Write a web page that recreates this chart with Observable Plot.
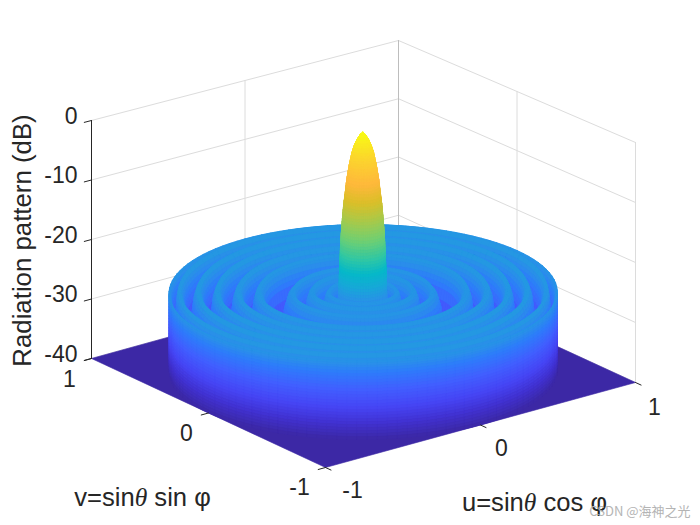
<!DOCTYPE html>
<html><head><meta charset="utf-8">
<script src="https://cdn.jsdelivr.net/npm/d3@7"></script>
<script src="https://cdn.jsdelivr.net/npm/@observablehq/plot@0.6"></script>
<style>html,body{margin:0;padding:0;background:#fff}svg{display:block}</style>
</head><body><div id="chart"></div>
<script>
// radial pattern: sinθ radius and level in dB
const lobeR  = [0,.012,.03,.045,.056,.07,.083,.09,.098,.105,.111,.115,.119,.122,.125];
const lobeDb = [0,-.3,-1.2,-2.3,-3.4,-5.5,-8,-10,-12,-14.5,-17,-19.5,-22.5,-25.5,-28];
const ringR  = [.14,.149,.1575,.166,.175,.186,.1965,.207,.218,.2285,.239,.2495,.26,.274,.2875,.301,.315,.326,.3375,.349,.36,.3825,.405,.4275,.45,.4715,.493,.5145,.536,.548,.56,.573,.585,.599,.6125,.626,.64,.654,.6675,.681,.695,.7085,.722,.7355,.749,.761,.773,.785,.797,.8095,.822,.8345,.847,.8595,.872,.8845,.897,.9095,.922,.9345,.947,.954,.961,.968,.975,.981,.9875,.994,1];
const ringDb = [-38,-31,-28.2,-27.1,-26.6,-27.1,-28.2,-31,-38,-31,-28.2,-27,-26.4,-27,-28.2,-31,-38,-31,-28.2,-27.1,-26.6,-27.5,-29.8,-35,-38,-35,-29.5,-27.2,-26.4,-27,-28.2,-31,-38,-31,-28.2,-27,-26.3,-26.9,-28.1,-31,-38,-31,-28.1,-26.9,-26.2,-26.9,-28.1,-31,-38,-31,-28.1,-26.9,-26.2,-26.9,-28.1,-31,-38,-31,-28.1,-27,-26.3,-27,-28.2,-31,-36,-31,-28.2,-27.2,-26.9];
const wallDb = [-28,-29,-30,-31,-32,-33,-34,-35,-36,-37,-38,-39,-40];
const zTicks = [0,-10,-20,-30,-40];
const uvTicks = [-1,0,1];
const colorDb  = [-40,-37.3,-34.6,-31.7,-28.8,-27.5,-26.5,-25,-22.6,-20,-17,-14,-11,-8,-4,0];
const colorHex = ["#3c28a5","#4132d2","#4646f5","#415fff","#2d7dfa","#2a8eea","#2498e2","#18a8d8","#05b9c8","#35c8a0","#72d070","#a9c94a","#dbbf28","#ffb83c","#fbd52e","#f9fb15"];
const floorCorners = {a:[91,358], b:[325,467], c:[635,382], d:[398,273]};
const topCorners   = {a:[91,120], b:[325,226], c:[635,142], d:[398,40]};

// (u,v,dB) to page position, from the box corners
function project(u,v,db){
  const s=(u+1)/2,t=(v+1)/2,h=(db+40)/40;
  const bi=(k,i)=>k.b[i]*(1-s)*(1-t)+k.c[i]*s*(1-t)+k.a[i]*(1-s)*t+k.d[i]*s*t;
  return [bi(floorCorners,0)*(1-h)+bi(topCorners,0)*h, bi(floorCorners,1)*(1-h)+bi(topCorners,1)*h];
}
const profileR=[...lobeR,...ringR,...wallDb.map(()=>1)];
const profileDb=[...lobeDb,...ringDb,...wallDb];
const quads=[];
for(let i=0;i<profileR.length-1;i++){
  const r0=profileR[i],r1=profileR[i+1],d0=profileDb[i],d1=profileDb[i+1];
  const inLobe=r1<=lobeR[lobeR.length-1], inWall=r0===1;
  const nA=inLobe?60:120, step=(inLobe||inWall)?.5:(Math.min(d0,d1)<-33?2.5:.8);
  const n=Math.max(1,Math.ceil(Math.abs(d1-d0)/step));
  for(let k=0;k<n;k++){
    const ra=r0+(r1-r0)*k/n,rb=r0+(r1-r0)*(k+1)/n,da=d0+(d1-d0)*k/n,db=d0+(d1-d0)*(k+1)/n;
    for(let j=0;j<nA;j++){
      const a0=j/nA*2*Math.PI,a1=(j+1)/nA*2*Math.PI;
      const pts=[[ra,a0,da],[rb,a0,db],[rb,a1,db],[ra,a1,da],[ra,a0,da]].map(([r,a,d])=>[r*Math.cos(a),r*Math.sin(a),d]);
      const cu=(pts[0][0]+pts[1][0]+pts[2][0]+pts[3][0])/4, cv=(pts[0][1]+pts[1][1]+pts[2][1]+pts[3][1])/4;
      quads.push({depth:cu*117+cv*155,dB:(da+db)/2,pts});
    }
  }
}
quads.sort((p,q)=>q.depth-p.depth);
const rows=[];
[[-1,1],[-1,-1],[1,-1],[1,1],[-1,1]].forEach(([u,v])=>{const p=project(u,v,-40);rows.push({id:-1,x:p[0],y:p[1],dB:-40});});
quads.forEach((q,i)=>q.pts.forEach(([u,v,d])=>{const p=project(u,v,d);rows.push({id:i,x:p[0],y:p[1],dB:q.dB});}));

const seg=(id,a,b)=>[{id,x:a[0],y:a[1]},{id,x:b[0],y:b[1]}];
const grid=[];
zTicks.forEach(z=>{
  grid.push(...seg("l"+z,project(-1,1,z),project(1,1,z)),...seg("r"+z,project(1,1,z),project(1,-1,z)));
});
grid.push(...seg("vu",project(0,1,-40),project(0,1,0)),...seg("vv",project(1,0,-40),project(1,0,0)),...seg("vr",project(1,-1,-40),project(1,-1,0)));
const corner=seg("vc",project(1,1,-40),project(1,1,0));
const ticks=[...seg("axis",project(-1,1,-40),project(-1,1,0))];
zTicks.forEach(z=>ticks.push(...seg("z"+z,project(-1,1,z),project(-1.047,1,z))));
uvTicks.forEach(v=>ticks.push(...seg("v"+v,project(-1,v,-40),project(-1.047,v,-40))));
uvTicks.forEach(u=>ticks.push(...seg("u"+u,project(u,-1,-40),project(u,-1.047,-40))));

const font="Liberation Sans, Arial, sans-serif";
const ink="#262626";
const chart=Plot.plot({
  width:700,height:525,margin:0,
  x:{domain:[0,700],range:[0,700],axis:null},
  y:{domain:[0,525],range:[0,525],axis:null},
  color:{type:"linear",domain:colorDb,range:colorHex,interpolate:"rgb"},
  style:{background:"#fff",fontFamily:font},
  marks:[
    Plot.line(grid,{x:"x",y:"y",z:"id",stroke:"#dcdcdc",strokeWidth:1}),
    Plot.line(corner,{x:"x",y:"y",z:"id",stroke:"#bdbdbd",strokeWidth:1}),
    Plot.line(rows,{x:"x",y:"y",z:"id",fill:"dB",stroke:"dB",strokeWidth:.6,curve:"linear"}),
    Plot.line(ticks,{x:"x",y:"y",z:"id",stroke:ink,strokeWidth:1}),
    Plot.text(zTicks,{x:z=>project(-1,1,z)[0],y:z=>project(-1,1,z)[1],text:z=>String(z),textAnchor:"end",dx:-14,dy:-4,fontSize:23,fill:ink}),
    Plot.text([1,0],{x:v=>project(-1,v,-40)[0],y:v=>project(-1,v,-40)[1],text:v=>String(v),dx:-22,dy:21,fontSize:23,fill:ink}),
    Plot.text([-1],{x:v=>project(-1,v,-40)[0],y:v=>project(-1,v,-40)[1],text:v=>String(v),dx:-26,dy:20,fontSize:23,fill:ink}),
    Plot.text([0],{x:u=>project(u,-1,-40)[0],y:u=>project(u,-1,-40)[1],text:u=>String(u),dx:21,dy:24,fontSize:23,fill:ink}),
    Plot.text([1],{x:u=>project(u,-1,-40)[0],y:u=>project(u,-1,-40)[1],text:u=>String(u),dx:19,dy:25,fontSize:23,fill:ink}),
    Plot.text([-1],{x:u=>project(u,-1,-40)[0],y:u=>project(u,-1,-40)[1],text:u=>String(u),dx:27,dy:23,fontSize:23,fill:ink}),
    Plot.text(["Radiation pattern (dB)"],{x:()=>22,y:()=>240,text:d=>d,rotate:-90,fontSize:25.8,fill:ink}),
    Plot.text(["v=sinθ sin φ"],{x:()=>142,y:()=>497,text:d=>d,fontSize:25.6,fill:ink,className:"lab"}),
    Plot.text(["u=sinθ cos φ"],{x:()=>534,y:()=>502,text:d=>d,fontSize:25.6,fill:ink,className:"lab"}),
    Plot.text(["CSDN @海神之光"],{x:()=>690,y:()=>511,text:d=>d,textAnchor:"end",fontSize:13,fill:"#b4b4b4",fontFamily:"Noto Sans CJK SC, Liberation Sans, sans-serif"})
  ]
});
d3.select(chart).selectAll(".lab text").each(function(){
  const t=this.textContent, i=t.indexOf("θ");
  const sel=d3.select(this); sel.text(null);
  sel.append("tspan").text(t.slice(0,i));
  sel.append("tspan").attr("font-style","italic").attr("font-family","Liberation Serif, serif").text("θ");
  sel.append("tspan").text(t.slice(i+1));
});
document.getElementById("chart").appendChild(chart);
</script></body></html>
